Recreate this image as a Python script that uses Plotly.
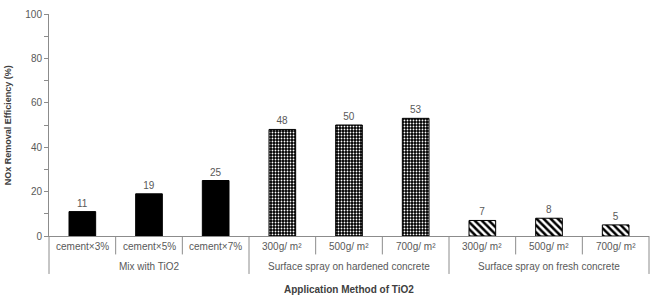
import plotly.graph_objects as go

groups = ["Mix with TiO2", "Surface spray on hardened concrete", "Surface spray on fresh concrete"]
categories = ["cement×3%", "cement×5%", "cement×7%",
              "300g/ m²", "500g/ m²", "700g/ m²",
              "300g/ m²", "500g/ m²", "700g/ m²"]
values = [11, 19, 25, 48, 50, 53, 7, 8, 5]
group_of = [0, 0, 0, 1, 1, 1, 2, 2, 2]
y_ticks = [0, 20, 40, 60, 80, 100]

GRAY = "#595959"
LINE = "#8c8c8c"
FONT = "Liberation Sans"
n = len(categories)

styles = [
    dict(color="black", pattern=dict(shape="")),
    dict(color="black", pattern=dict(shape=".", fgcolor="white", bgcolor="black", size=3, solidity=0.3, fillmode="replace")),
    dict(color="white", pattern=dict(shape="\\", fgcolor="black", bgcolor="white", size=5, solidity=0.5, fillmode="replace")),
]

fig = go.Figure()
for g in range(len(groups)):
    idx = [i for i in range(n) if group_of[i] == g]
    st = styles[g]
    fig.add_trace(go.Bar(
        x=idx, y=[values[i] for i in idx],
        width=0.4,
        marker=dict(color=st["color"], pattern=st["pattern"], line=dict(color="black", width=1)),
        text=[str(values[i]) for i in idx], textposition="outside",
        textfont=dict(family=FONT, size=10, color=GRAY),
        cliponaxis=False, showlegend=False,
    ))

shapes = []
# y-axis line extension below the plot
shapes.append(dict(type="line", xref="paper", yref="paper", x0=0, x1=0, y0=0, y1=-0.171, line=dict(color=LINE, width=1)))
for k in range(1, n + 1):
    is_group_end = (k == n) or (group_of[k] != group_of[k - 1])
    y1 = -0.171 if is_group_end else -0.083
    shapes.append(dict(type="line", xref="paper", yref="paper", x0=k / n, x1=k / n, y0=0, y1=y1, line=dict(color=LINE, width=1)))

annotations = []
for i, c in enumerate(categories):
    annotations.append(dict(x=(i + 0.5) / n, y=-0.048, xref="paper", yref="paper",
                            text=c, showarrow=False, xanchor="center", yanchor="middle",
                            font=dict(family=FONT, size=10, color=GRAY)))
for g, name in enumerate(groups):
    idx = [i for i in range(n) if group_of[i] == g]
    cx = (min(idx) + max(idx) + 1) / 2 / n
    annotations.append(dict(x=cx, y=-0.136, xref="paper", yref="paper", text=name, showarrow=False,
                            xanchor="center", yanchor="middle", font=dict(family=FONT, size=10, color=GRAY)))
annotations.append(dict(x=0.5, y=-0.243, xref="paper", yref="paper", text="<b>Application Method of TiO2</b>",
                        showarrow=False, xanchor="center", yanchor="middle", font=dict(family=FONT, size=10, color="#404040")))
annotations.append(dict(x=-0.068, y=0.5, xref="paper", yref="paper", text="<b>NOx Removal Efficiency (%)</b>",
                        textangle=-90, showarrow=False, xanchor="center", yanchor="middle",
                        font=dict(family=FONT, size=9, color="#404040")))

fig.update_layout(
    width=658, height=299,
    margin=dict(l=49, r=9, t=8, b=63),
    paper_bgcolor="white", plot_bgcolor="white",
    barmode="overlay",
    xaxis=dict(range=[-0.5, n - 0.5], showticklabels=False, showline=True, linecolor=LINE,
               linewidth=1, ticks="", showgrid=False, zeroline=False, fixedrange=True),
    yaxis=dict(range=[0, 100], tickvals=y_ticks, showline=True, linecolor=LINE, linewidth=1,
               ticks="outside", ticklen=4, tickcolor=LINE, showgrid=False, zeroline=False,
               tickfont=dict(family=FONT, size=10, color=GRAY),
               minor=dict(dtick=10, ticks="outside", ticklen=4, tickcolor=LINE)),
    shapes=shapes, annotations=annotations,
)

fig.write_html("out.html")
